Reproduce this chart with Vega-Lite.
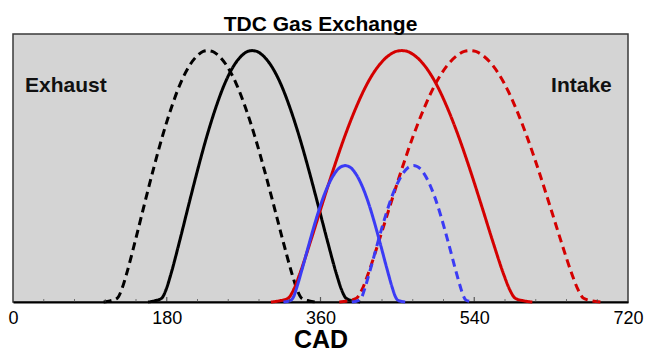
{
  "$schema": "https://vega.github.io/schema/vega-lite/v6.json",
  "width": 615,
  "height": 268,
  "autosize": {"type": "none"},
  "padding": {"left": 13, "top": 34, "right": 18, "bottom": 51},
  "background": "white",
  "title": {
    "text": "TDC Gas Exchange",
    "font": "Liberation Sans",
    "fontSize": 21,
    "fontWeight": "bold",
    "color": "black",
    "anchor": "middle",
    "offset": -1
  },
  "config": {
    "view": {"fill": "#d4d4d4", "stroke": "#3a3a3a", "strokeWidth": 1.5}
  },
  "datasets": {
    "lift": [
      {"valve": "exhaust_early", "cad": 106.1, "lift": 0},
      {"valve": "exhaust_early", "cad": 113.5, "lift": 0.04},
      {"valve": "exhaust_early", "cad": 122, "lift": 0.14},
      {"valve": "exhaust_early", "cad": 127.3, "lift": 0.47},
      {"valve": "exhaust_early", "cad": 132.6, "lift": 1.01},
      {"valve": "exhaust_early", "cad": 143.2, "lift": 2.29},
      {"valve": "exhaust_early", "cad": 153.8, "lift": 3.64},
      {"valve": "exhaust_early", "cad": 164.4, "lift": 4.96},
      {"valve": "exhaust_early", "cad": 175, "lift": 6.19},
      {"valve": "exhaust_early", "cad": 185.6, "lift": 7.27},
      {"valve": "exhaust_early", "cad": 196.2, "lift": 8.17},
      {"valve": "exhaust_early", "cad": 206.8, "lift": 8.83},
      {"valve": "exhaust_early", "cad": 217.4, "lift": 9.24},
      {"valve": "exhaust_early", "cad": 222.7, "lift": 9.35},
      {"valve": "exhaust_early", "cad": 228, "lift": 9.38},
      {"valve": "exhaust_early", "cad": 233.5, "lift": 9.35},
      {"valve": "exhaust_early", "cad": 239, "lift": 9.24},
      {"valve": "exhaust_early", "cad": 250, "lift": 8.83},
      {"valve": "exhaust_early", "cad": 261, "lift": 8.17},
      {"valve": "exhaust_early", "cad": 272, "lift": 7.27},
      {"valve": "exhaust_early", "cad": 283, "lift": 6.19},
      {"valve": "exhaust_early", "cad": 294, "lift": 4.96},
      {"valve": "exhaust_early", "cad": 305, "lift": 3.64},
      {"valve": "exhaust_early", "cad": 316, "lift": 2.29},
      {"valve": "exhaust_early", "cad": 327, "lift": 1.01},
      {"valve": "exhaust_early", "cad": 332.5, "lift": 0.47},
      {"valve": "exhaust_early", "cad": 338, "lift": 0.14},
      {"valve": "exhaust_early", "cad": 346.8, "lift": 0.04},
      {"valve": "exhaust_early", "cad": 354.5, "lift": 0},

      {"valve": "exhaust", "cad": 158.1, "lift": 0},
      {"valve": "exhaust", "cad": 165.5, "lift": 0.04},
      {"valve": "exhaust", "cad": 174, "lift": 0.14},
      {"valve": "exhaust", "cad": 179.3, "lift": 0.47},
      {"valve": "exhaust", "cad": 184.6, "lift": 1.01},
      {"valve": "exhaust", "cad": 195.2, "lift": 2.29},
      {"valve": "exhaust", "cad": 205.8, "lift": 3.64},
      {"valve": "exhaust", "cad": 216.4, "lift": 4.96},
      {"valve": "exhaust", "cad": 227, "lift": 6.19},
      {"valve": "exhaust", "cad": 237.6, "lift": 7.27},
      {"valve": "exhaust", "cad": 248.2, "lift": 8.17},
      {"valve": "exhaust", "cad": 258.8, "lift": 8.83},
      {"valve": "exhaust", "cad": 269.4, "lift": 9.24},
      {"valve": "exhaust", "cad": 274.7, "lift": 9.35},
      {"valve": "exhaust", "cad": 280, "lift": 9.38},
      {"valve": "exhaust", "cad": 285.5, "lift": 9.35},
      {"valve": "exhaust", "cad": 291, "lift": 9.24},
      {"valve": "exhaust", "cad": 302, "lift": 8.83},
      {"valve": "exhaust", "cad": 313, "lift": 8.17},
      {"valve": "exhaust", "cad": 324, "lift": 7.27},
      {"valve": "exhaust", "cad": 335, "lift": 6.19},
      {"valve": "exhaust", "cad": 346, "lift": 4.96},
      {"valve": "exhaust", "cad": 357, "lift": 3.64},
      {"valve": "exhaust", "cad": 368, "lift": 2.29},
      {"valve": "exhaust", "cad": 379, "lift": 1.01},
      {"valve": "exhaust", "cad": 384.5, "lift": 0.47},
      {"valve": "exhaust", "cad": 390, "lift": 0.14},
      {"valve": "exhaust", "cad": 398.8, "lift": 0.04},
      {"valve": "exhaust", "cad": 406.5, "lift": 0},

      {"valve": "intake", "cad": 302, "lift": 0},
      {"valve": "intake", "cad": 311.4, "lift": 0.04},
      {"valve": "intake", "cad": 322, "lift": 0.14},
      {"valve": "intake", "cad": 328.7, "lift": 0.47},
      {"valve": "intake", "cad": 335.3, "lift": 1.01},
      {"valve": "intake", "cad": 348.6, "lift": 2.29},
      {"valve": "intake", "cad": 361.9, "lift": 3.64},
      {"valve": "intake", "cad": 375.2, "lift": 4.96},
      {"valve": "intake", "cad": 388.5, "lift": 6.19},
      {"valve": "intake", "cad": 401.8, "lift": 7.27},
      {"valve": "intake", "cad": 415.1, "lift": 8.17},
      {"valve": "intake", "cad": 428.4, "lift": 8.83},
      {"valve": "intake", "cad": 441.7, "lift": 9.24},
      {"valve": "intake", "cad": 448.4, "lift": 9.35},
      {"valve": "intake", "cad": 455, "lift": 9.38},
      {"valve": "intake", "cad": 461.7, "lift": 9.35},
      {"valve": "intake", "cad": 468.3, "lift": 9.24},
      {"valve": "intake", "cad": 481.6, "lift": 8.83},
      {"valve": "intake", "cad": 494.9, "lift": 8.17},
      {"valve": "intake", "cad": 508.2, "lift": 7.27},
      {"valve": "intake", "cad": 521.5, "lift": 6.19},
      {"valve": "intake", "cad": 534.8, "lift": 4.96},
      {"valve": "intake", "cad": 548.1, "lift": 3.64},
      {"valve": "intake", "cad": 561.4, "lift": 2.29},
      {"valve": "intake", "cad": 574.7, "lift": 1.01},
      {"valve": "intake", "cad": 581.4, "lift": 0.47},
      {"valve": "intake", "cad": 588, "lift": 0.14},
      {"valve": "intake", "cad": 598.6, "lift": 0.04},
      {"valve": "intake", "cad": 608, "lift": 0},

      {"valve": "intake_late", "cad": 382, "lift": 0},
      {"valve": "intake_late", "cad": 391.4, "lift": 0.04},
      {"valve": "intake_late", "cad": 402, "lift": 0.14},
      {"valve": "intake_late", "cad": 408.7, "lift": 0.47},
      {"valve": "intake_late", "cad": 415.3, "lift": 1.01},
      {"valve": "intake_late", "cad": 428.6, "lift": 2.29},
      {"valve": "intake_late", "cad": 441.9, "lift": 3.64},
      {"valve": "intake_late", "cad": 455.2, "lift": 4.96},
      {"valve": "intake_late", "cad": 468.5, "lift": 6.19},
      {"valve": "intake_late", "cad": 481.8, "lift": 7.27},
      {"valve": "intake_late", "cad": 495.1, "lift": 8.17},
      {"valve": "intake_late", "cad": 508.4, "lift": 8.83},
      {"valve": "intake_late", "cad": 521.7, "lift": 9.24},
      {"valve": "intake_late", "cad": 528.4, "lift": 9.35},
      {"valve": "intake_late", "cad": 535, "lift": 9.38},
      {"valve": "intake_late", "cad": 541.7, "lift": 9.35},
      {"valve": "intake_late", "cad": 548.3, "lift": 9.24},
      {"valve": "intake_late", "cad": 561.6, "lift": 8.83},
      {"valve": "intake_late", "cad": 574.9, "lift": 8.17},
      {"valve": "intake_late", "cad": 588.2, "lift": 7.27},
      {"valve": "intake_late", "cad": 601.5, "lift": 6.19},
      {"valve": "intake_late", "cad": 614.8, "lift": 4.96},
      {"valve": "intake_late", "cad": 628.1, "lift": 3.64},
      {"valve": "intake_late", "cad": 641.4, "lift": 2.29},
      {"valve": "intake_late", "cad": 654.7, "lift": 1.01},
      {"valve": "intake_late", "cad": 661.4, "lift": 0.47},
      {"valve": "intake_late", "cad": 668, "lift": 0.14},
      {"valve": "intake_late", "cad": 678.6, "lift": 0.04},
      {"valve": "intake_late", "cad": 688, "lift": 0},

      {"valve": "intake_low", "cad": 316.6, "lift": 0},
      {"valve": "intake_low", "cad": 321, "lift": 0.02},
      {"valve": "intake_low", "cad": 326, "lift": 0.08},
      {"valve": "intake_low", "cad": 329.2, "lift": 0.25},
      {"valve": "intake_low", "cad": 332.3, "lift": 0.55},
      {"valve": "intake_low", "cad": 338.6, "lift": 1.24},
      {"valve": "intake_low", "cad": 344.9, "lift": 1.97},
      {"valve": "intake_low", "cad": 351.2, "lift": 2.69},
      {"valve": "intake_low", "cad": 357.5, "lift": 3.36},
      {"valve": "intake_low", "cad": 363.8, "lift": 3.95},
      {"valve": "intake_low", "cad": 370.1, "lift": 4.43},
      {"valve": "intake_low", "cad": 376.4, "lift": 4.79},
      {"valve": "intake_low", "cad": 382.7, "lift": 5.02},
      {"valve": "intake_low", "cad": 385.9, "lift": 5.07},
      {"valve": "intake_low", "cad": 389, "lift": 5.09},
      {"valve": "intake_low", "cad": 392.1, "lift": 5.07},
      {"valve": "intake_low", "cad": 395.1, "lift": 5.02},
      {"valve": "intake_low", "cad": 401.2, "lift": 4.79},
      {"valve": "intake_low", "cad": 407.3, "lift": 4.43},
      {"valve": "intake_low", "cad": 413.4, "lift": 3.95},
      {"valve": "intake_low", "cad": 419.5, "lift": 3.36},
      {"valve": "intake_low", "cad": 425.6, "lift": 2.69},
      {"valve": "intake_low", "cad": 431.7, "lift": 1.97},
      {"valve": "intake_low", "cad": 437.8, "lift": 1.24},
      {"valve": "intake_low", "cad": 443.9, "lift": 0.55},
      {"valve": "intake_low", "cad": 447, "lift": 0.25},
      {"valve": "intake_low", "cad": 450, "lift": 0.08},
      {"valve": "intake_low", "cad": 454.9, "lift": 0.02},
      {"valve": "intake_low", "cad": 459.2, "lift": 0},

      {"valve": "intake_low_late", "cad": 396.6, "lift": 0},
      {"valve": "intake_low_late", "cad": 401, "lift": 0.02},
      {"valve": "intake_low_late", "cad": 406, "lift": 0.08},
      {"valve": "intake_low_late", "cad": 409.2, "lift": 0.25},
      {"valve": "intake_low_late", "cad": 412.3, "lift": 0.55},
      {"valve": "intake_low_late", "cad": 418.6, "lift": 1.24},
      {"valve": "intake_low_late", "cad": 424.9, "lift": 1.97},
      {"valve": "intake_low_late", "cad": 431.2, "lift": 2.69},
      {"valve": "intake_low_late", "cad": 437.5, "lift": 3.36},
      {"valve": "intake_low_late", "cad": 443.8, "lift": 3.95},
      {"valve": "intake_low_late", "cad": 450.1, "lift": 4.43},
      {"valve": "intake_low_late", "cad": 456.4, "lift": 4.79},
      {"valve": "intake_low_late", "cad": 462.7, "lift": 5.02},
      {"valve": "intake_low_late", "cad": 465.9, "lift": 5.07},
      {"valve": "intake_low_late", "cad": 469, "lift": 5.09},
      {"valve": "intake_low_late", "cad": 472.1, "lift": 5.07},
      {"valve": "intake_low_late", "cad": 475.1, "lift": 5.02},
      {"valve": "intake_low_late", "cad": 481.2, "lift": 4.79},
      {"valve": "intake_low_late", "cad": 487.3, "lift": 4.43},
      {"valve": "intake_low_late", "cad": 493.4, "lift": 3.95},
      {"valve": "intake_low_late", "cad": 499.5, "lift": 3.36},
      {"valve": "intake_low_late", "cad": 505.6, "lift": 2.69},
      {"valve": "intake_low_late", "cad": 511.7, "lift": 1.97},
      {"valve": "intake_low_late", "cad": 517.8, "lift": 1.24},
      {"valve": "intake_low_late", "cad": 523.9, "lift": 0.55},
      {"valve": "intake_low_late", "cad": 527, "lift": 0.25},
      {"valve": "intake_low_late", "cad": 530, "lift": 0.08},
      {"valve": "intake_low_late", "cad": 534.9, "lift": 0.02},
      {"valve": "intake_low_late", "cad": 539.2, "lift": 0}
    ],
    "labels": [
      {"label": "Exhaust", "cad": 14, "lift": 7.85},
      {"label": "Intake", "cad": 701, "lift": 7.85}
    ],
    "minorTicks": [
      {"cad": 36}, {"cad": 72}, {"cad": 108}, {"cad": 144},
      {"cad": 216}, {"cad": 252}, {"cad": 288}, {"cad": 324},
      {"cad": 396}, {"cad": 432}, {"cad": 468}, {"cad": 504},
      {"cad": 576}, {"cad": 612}, {"cad": 648}, {"cad": 684}
    ],
    "majorTicks": [
      {"cad": 180}, {"cad": 360}, {"cad": 540}
    ]
  },
  "layer": [
    {
      "data": {"name": "lift"},
      "mark": {"type": "line", "interpolate": "monotone", "strokeWidth": 3, "strokeCap": "butt"},
      "encoding": {
        "x": {
          "field": "cad",
          "type": "quantitative",
          "scale": {"domain": [0, 720], "nice": false, "zero": false},
          "axis": {
            "title": "CAD",
            "titleFont": "Liberation Sans",
            "titleFontSize": 25,
            "titleFontWeight": "bold",
            "titleColor": "black",
            "titlePadding": 0,
            "values": [0, 180, 360, 540, 720],
            "labelFont": "Liberation Sans",
            "labelFontSize": 18,
            "labelColor": "black",
            "labelPadding": 7,
            "labelFlush": false,
            "labelOverlap": false,
            "grid": false,
            "ticks": false,
            "domainColor": "black",
            "domainWidth": 2
          }
        },
        "y": {
          "field": "lift",
          "type": "quantitative",
          "scale": {"domain": [0, 10], "nice": false},
          "axis": null
        },
        "color": {
          "field": "valve",
          "type": "nominal",
          "scale": {
            "domain": ["exhaust_early", "exhaust", "intake", "intake_late", "intake_low", "intake_low_late"],
            "range": ["#000000", "#000000", "#d40000", "#d40000", "#3b3bf5", "#3b3bf5"]
          },
          "legend": null
        },
        "strokeDash": {
          "field": "valve",
          "type": "nominal",
          "scale": {
            "domain": ["exhaust_early", "exhaust", "intake", "intake_late", "intake_low", "intake_low_late"],
            "range": [[8, 5], [1, 0], [1, 0], [8, 5], [1, 0], [8, 5]]
          },
          "legend": null
        }
      }
    },
    {
      "data": {"name": "minorTicks"},
      "mark": {"type": "tick", "orient": "vertical", "size": 6, "thickness": 1, "color": "#444444", "clip": true},
      "encoding": {
        "x": {"field": "cad", "type": "quantitative"},
        "y": {"datum": 0}
      }
    },
    {
      "data": {"name": "majorTicks"},
      "mark": {"type": "tick", "orient": "vertical", "size": 10, "thickness": 1.2, "color": "#222222", "clip": true},
      "encoding": {
        "x": {"field": "cad", "type": "quantitative"},
        "y": {"datum": 0}
      }
    },
    {
      "mark": {"type": "rule", "color": "black", "strokeWidth": 2},
      "encoding": {"x": {"datum": 360}}
    },
    {
      "data": {"name": "labels"},
      "transform": [{"filter": "datum.label === 'Exhaust'"}],
      "mark": {"type": "text", "align": "left", "baseline": "alphabetic", "font": "Liberation Sans", "fontSize": 21, "fontWeight": "bold", "color": "#111111"},
      "encoding": {
        "x": {"field": "cad", "type": "quantitative"},
        "y": {"field": "lift", "type": "quantitative"},
        "text": {"field": "label"}
      }
    },
    {
      "data": {"name": "labels"},
      "transform": [{"filter": "datum.label === 'Intake'"}],
      "mark": {"type": "text", "align": "right", "baseline": "alphabetic", "font": "Liberation Sans", "fontSize": 21, "fontWeight": "bold", "color": "#111111"},
      "encoding": {
        "x": {"field": "cad", "type": "quantitative"},
        "y": {"field": "lift", "type": "quantitative"},
        "text": {"field": "label"}
      }
    }
  ]
}
